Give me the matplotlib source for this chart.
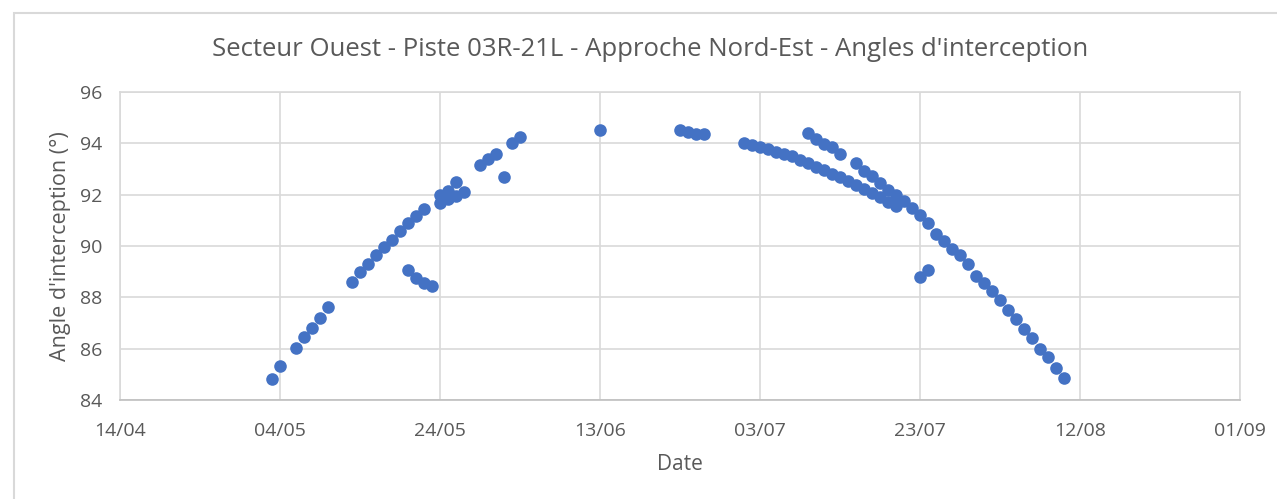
import numpy as np
import pandas as pd
import matplotlib
matplotlib.use("Agg")
import matplotlib.pyplot as plt
import matplotlib.dates as mdates
from matplotlib.patches import Rectangle

YEAR = 2021

# date (dd/mm), angle d'interception (deg)
dates_rise = ["03/05", "04/05", "06/05", "07/05", "08/05", "09/05", "10/05",
              "13/05", "14/05", "15/05", "16/05", "17/05", "18/05", "19/05",
              "20/05", "21/05", "22/05", "24/05", "24/05", "25/05", "25/05",
              "26/05", "26/05", "27/05", "29/05", "30/05", "31/05", "02/06",
              "03/06", "13/06", "23/06", "24/06", "25/06", "26/06"]
angles_rise = [84.82, 85.32, 86.01, 86.46, 86.82, 87.20, 87.61,
               88.61, 88.98, 89.31, 89.63, 89.95, 90.24, 90.60,
               90.89, 91.18, 91.44, 91.98, 91.68, 92.15, 91.82,
               92.50, 91.96, 92.12, 93.17, 93.39, 93.60, 94.03,
               94.25, 94.51, 94.51, 94.46, 94.38, 94.36]

dates_fall_low = ["01/07", "02/07", "03/07", "04/07", "05/07", "06/07",
                  "07/07", "08/07", "09/07", "10/07", "11/07", "12/07",
                  "13/07", "14/07", "15/07", "16/07", "17/07", "18/07",
                  "19/07", "20/07"]
angles_fall_low = [94.03, 93.94, 93.86, 93.77, 93.67, 93.60,
                   93.50, 93.35, 93.22, 93.08, 92.95, 92.82,
                   92.69, 92.55, 92.37, 92.24, 92.07, 91.91,
                   91.72, 91.55]

dates_fall_high = ["09/07", "10/07", "11/07", "12/07", "13/07", "15/07",
                   "16/07", "17/07", "18/07", "19/07", "20/07", "21/07",
                   "22/07", "23/07", "24/07", "25/07", "26/07", "27/07",
                   "28/07", "29/07", "30/07", "31/07", "01/08", "02/08",
                   "03/08", "04/08", "05/08", "06/08", "07/08", "08/08",
                   "09/08", "10/08"]
angles_fall_high = [94.40, 94.18, 93.98, 93.87, 93.58, 93.22,
                    92.93, 92.72, 92.46, 92.20, 91.99, 91.75,
                    91.48, 91.20, 90.88, 90.47, 90.19, 89.89,
                    89.63, 89.28, 88.85, 88.56, 88.24, 87.91,
                    87.50, 87.17, 86.75, 86.42, 86.00, 85.66,
                    85.23, 84.87]

# isolated points
dates_out = ["20/05", "21/05", "22/05", "23/05", "01/06", "23/07", "24/07"]
angles_out = [89.08, 88.77, 88.57, 88.43, 92.70, 88.79, 89.08]

x_ticks = ["14/04", "04/05", "24/05", "13/06", "03/07", "23/07", "12/08", "01/09"]


def to_dt(labels):
    return pd.to_datetime([f"{d}/{YEAR}" for d in labels], format="%d/%m/%Y")


dates = np.concatenate([to_dt(dates_rise), to_dt(dates_fall_low),
                        to_dt(dates_fall_high), to_dt(dates_out)])
angles = np.concatenate([angles_rise, angles_fall_low, angles_fall_high, angles_out])

plt.rcParams['font.family'] = ['Open Sans', 'DejaVu Sans']
grey = '#595959'

fig = plt.figure(figsize=(12.77, 4.99), dpi=100)
fig.patches.append(Rectangle((14 / 1277, -0.1), 1.2, 1 - 13 / 499 + 0.1,
                             transform=fig.transFigure, fill=False,
                             edgecolor='#D9D9D9', linewidth=1.5))
ax = fig.add_axes([120 / 1277, 99 / 499, 1120 / 1277, 308 / 499])

ax.scatter(dates, angles, s=82, color='#4472C4', zorder=3, linewidths=0)

tick_dt = to_dt(x_ticks)
ax.set_xticks(tick_dt)
ax.xaxis.set_major_formatter(mdates.DateFormatter('%d/%m'))
ax.set_xlim(tick_dt[0], tick_dt[-1])
ax.set_ylim(84, 96)
ax.set_yticks(np.arange(84, 97, 2))

ax.grid(True, color='#D9D9D9', linewidth=1.2)
ax.set_axisbelow(True)
for s in ax.spines.values():
    s.set_color('#D9D9D9')
    s.set_linewidth(1.2)
ax.spines['bottom'].set_color('#BFBFBF')
ax.tick_params(length=0, colors=grey, labelsize=14)
ax.tick_params(axis='x', pad=16)
ax.tick_params(axis='y', pad=13)

ax.set_xlabel('Date', color=grey, fontsize=15, labelpad=10)
ax.set_ylabel("Angle d'interception (°)", color=grey, fontsize=15.5, labelpad=6)
fig.text(650 / 1277, 1 - 49 / 499,
         "Secteur Ouest - Piste 03R-21L - Approche Nord-Est - Angles d'interception",
         ha='center', va='center', color=grey, fontsize=18.5)

fig.savefig('out.png', dpi=100)
